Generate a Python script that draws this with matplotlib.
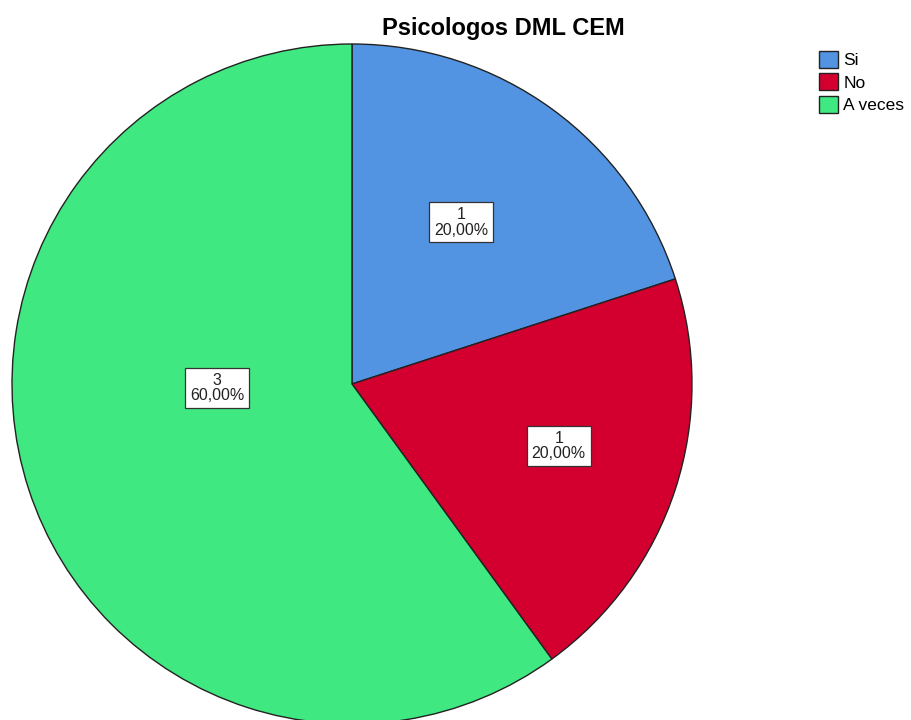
import matplotlib.pyplot as plt
import numpy as np

plt.rcParams['font.family'] = ['Liberation Sans', 'DejaVu Sans']

categories = ["Si", "No", "A veces"]
counts = [1, 1, 3]
colors = ["#5294e2", "#d3002f", "#3fe880"]

fig = plt.figure(figsize=(9.12, 7.2), dpi=100)
ax = fig.add_axes([12 / 912, -4 / 720, 680 / 912, 680 / 720])

wedges, _ = ax.pie(counts, colors=colors, startangle=90, counterclock=False,
                   wedgeprops=dict(edgecolor="#222222", linewidth=1.0))
ax.set_aspect("equal")
ax.set_xlim(-1, 1)
ax.set_ylim(-1, 1)

total = sum(counts)
# label placement: (angle offset in degrees, radius fraction)
label_place = [(2, 0.574), (1.3, 0.635), (-16.3, 0.397)]
for w, c, (doff, r) in zip(wedges, counts, label_place):
    ang = np.deg2rad((w.theta1 + w.theta2) / 2 + doff)
    txt = "%d\n%s%%" % (c, ("%.2f" % (100 * c / total)).replace(".", ","))
    ax.text(r * np.cos(ang), r * np.sin(ang), txt, ha="center", va="center",
            fontsize=11.5, linespacing=1.05, color="#222222",
            bbox=dict(boxstyle="square,pad=0.3", fc="white", ec="#333333", lw=0.9))

fig.text(503 / 912, 1 - 29 / 720, "Psicologos DML CEM", ha="center", va="center",
         fontsize=17, fontweight="bold")

fig.legend(wedges, categories, loc="upper left", bbox_to_anchor=(819 / 912, 1 - 51 / 720),
           frameon=False, fontsize=12.5, handlelength=1.1, handleheight=1.1,
           handletextpad=0.3, labelspacing=0.3, borderaxespad=0, borderpad=0)

fig.savefig("out.png", dpi=100)
